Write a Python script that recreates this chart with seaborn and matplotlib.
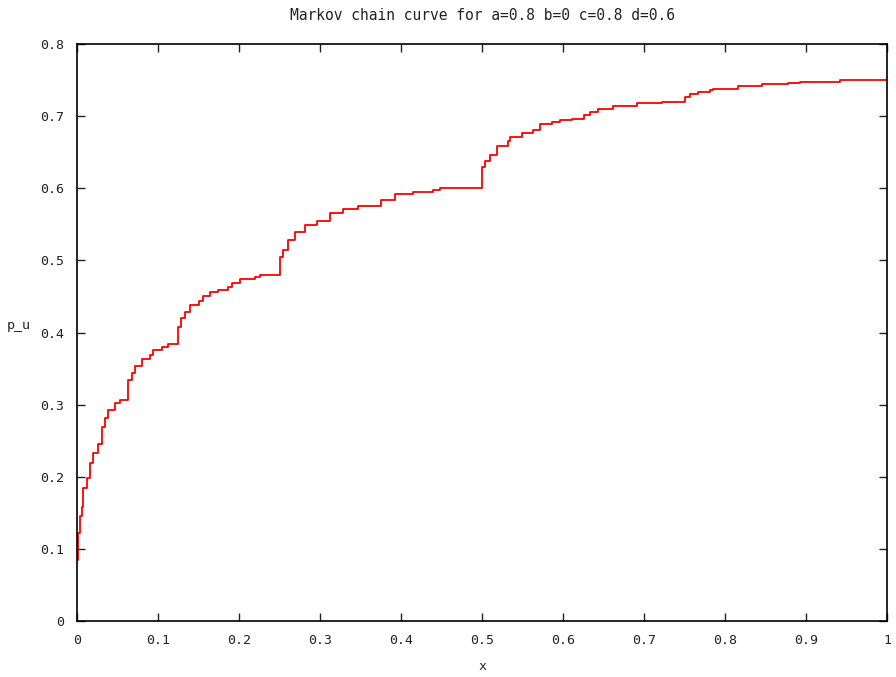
import matplotlib
matplotlib.use("Agg")
import matplotlib.pyplot as plt
import seaborn as sns
import pandas as pd

# step points (value holds from x until the next x)
x_vals = [0.0, 0.001, 0.0037, 0.0058, 0.0078, 0.012, 0.016, 0.020, 0.0255,
          0.031, 0.0346, 0.0387, 0.047, 0.053, 0.0625, 0.0675, 0.0716, 0.0798,
          0.09, 0.094, 0.1045, 0.1127, 0.125, 0.129, 0.133, 0.1395, 0.15,
          0.156, 0.164, 0.174, 0.186, 0.191, 0.201, 0.22, 0.226, 0.25, 0.254,
          0.26, 0.269, 0.281, 0.296, 0.312, 0.328, 0.347, 0.375, 0.393, 0.415,
          0.44, 0.448, 0.5, 0.504, 0.51, 0.518, 0.532, 0.535, 0.549, 0.563,
          0.572, 0.586, 0.596, 0.611, 0.626, 0.633, 0.643, 0.662, 0.691, 0.722,
          0.751, 0.757, 0.767, 0.781, 0.785, 0.816, 0.846, 0.878, 0.893, 0.942,
          1.0]
p_u = [0.085, 0.122, 0.145, 0.158, 0.184, 0.198, 0.219, 0.233, 0.245,
       0.269, 0.281, 0.2925, 0.302, 0.306, 0.334, 0.344, 0.353, 0.363,
       0.369, 0.376, 0.380, 0.384, 0.408, 0.420, 0.429, 0.438, 0.444,
       0.451, 0.4566, 0.459, 0.4635, 0.469, 0.474, 0.477, 0.480, 0.505, 0.514,
       0.528, 0.540, 0.549, 0.555, 0.565, 0.571, 0.575, 0.584, 0.592, 0.595,
       0.5975, 0.600, 0.630, 0.638, 0.646, 0.658, 0.665, 0.671, 0.676, 0.681,
       0.689, 0.692, 0.694, 0.696, 0.701, 0.706, 0.710, 0.714, 0.718, 0.720,
       0.727, 0.731, 0.734, 0.736, 0.738, 0.742, 0.7445, 0.746, 0.748, 0.750,
       0.751]

x_ticks = [0, 0.1, 0.2, 0.3, 0.4, 0.5, 0.6, 0.7, 0.8, 0.9, 1]
x_tick_labels = ["0", "0.1", "0.2", "0.3", "0.4", "0.5", "0.6", "0.7", "0.8", "0.9", "1"]
y_ticks = [0, 0.1, 0.2, 0.3, 0.4, 0.5, 0.6, 0.7, 0.8]
y_tick_labels = ["0", "0.1", "0.2", "0.3", "0.4", "0.5", "0.6", "0.7", "0.8"]

df = pd.DataFrame({"x": x_vals, "p_u": p_u})

sns.set_style("ticks")
plt.rcParams["font.family"] = ["DejaVu Sans Mono"]

fig = plt.figure(figsize=(8.96, 6.77), dpi=100)
ax = fig.add_axes([77 / 896, 56 / 677, 810 / 896, 577 / 677])

sns.lineplot(data=df, x="x", y="p_u", ax=ax, color="#ff0000", linewidth=1.3,
             drawstyle="steps-post", estimator=None, sort=True)

ax.set_xlim(0, 1)
ax.set_ylim(0, 0.8)
ax.set_xticks(x_ticks)
ax.set_xticklabels(x_tick_labels)
ax.set_yticks(y_ticks)
ax.set_yticklabels(y_tick_labels)
ax.tick_params(direction="in", length=6, width=1, top=True, right=True,
               labelsize=9.5, colors="#222222", pad=9)
for sp in ax.spines.values():
    sp.set_visible(True)
    sp.set_linewidth(1.2)
    sp.set_color("black")

ax.set_xlabel("x", fontsize=9.5, labelpad=10, color="#222222")
ax.set_ylabel("p_u", fontsize=9.5, rotation=0, labelpad=0, color="#222222")
ax.yaxis.set_label_coords(-0.072, 0.5)
ax.set_title("Markov chain curve for a=0.8 b=0 c=0.8 d=0.6", fontsize=10.5,
             pad=17, color="#222222")

fig.savefig("out.png", dpi=100)
